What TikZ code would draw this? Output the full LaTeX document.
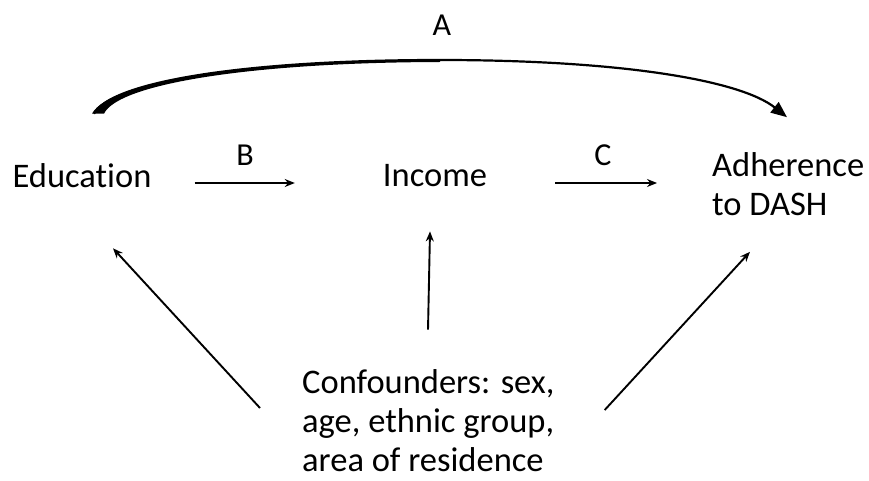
\documentclass[tikz,border=0pt]{standalone}
\usepackage{fontspec}
\setmainfont{Carlito}[Ligatures=NoCommon]
\usepackage{tikz}
\usetikzlibrary{arrows.meta, positioning}

\begin{document}
\begin{tikzpicture}[
  x=1pt, y=-1pt,
  every node/.style={font=\fontsize{34.5}{39}\selectfont, inner sep=0pt},
  var/.style={align=left},
  pathlabel/.style={font=\fontsize{32}{36}\selectfont},
  arrow/.style={-{Stealth[length=10pt,width=8pt]}, line width=1.9pt}
]
\useasboundingbox (0,0) rectangle (869,481);

%% ── VARIABLES ────────────────────────────────────────────────
\node[var] (edu) at (82,176) {Education};
\node[var] (inc) at (435,176) {Income};
\node[var, anchor=west] (dash) at (712,184) {Adherence\\to DASH};
\node[var, anchor=west] (conf) at (302,421)
  {Confounders: sex,\\age, ethnic group,\\area of residence};

%% ── PATH LABELS ──────────────────────────────────────────────
\node[pathlabel] (labA) at (442,25) {A};
\node[pathlabel] (labB) at (245,155) {B};
\node[pathlabel] (labC) at (603,155) {C};

%% Direct effect A (arc, thick at its tail)
\coordinate (arcstart) at ([shift={(10,-50)}]edu.north);
\coordinate (arctop)   at (440,60);
\coordinate (arcend)   at ([shift={(75,-35)}]dash.north west);
\fill (arcstart) .. controls +(18,-33) and (250,60) .. (arctop)
  -- (440,62) .. controls (250,62.5) and (118,84) .. ([xshift=12pt]arcstart) -- cycle;
\draw[line width=2.2pt, -{Triangle[length=16pt,width=13pt]}]
  ([xshift=2pt]arcstart) .. controls +(18,-33) and (250,60) .. (arctop)
  .. controls (620,60) and (740,80) .. (arcend);

%% Mediated path B -> C
\draw[arrow] ([shift={(43,7)}]edu.east) -- ([shift={(-88,7)}]inc.west);
\draw[arrow] ([shift={(68,7)}]inc.east) -- ([shift={(-55,7)}]dash.west |- inc.east);

%% Confounding
\draw[arrow] ([shift={(-42,-13)}]conf.west) -- ([shift={(31,60)}]edu.south);
\draw[arrow] ([shift={(-7,-40)}]conf.north -| inc.south) -- ([shift={(-5,44)}]inc.south);
\draw[arrow] ([shift={(50,-11)}]conf.east) -- ([shift={(38,36)}]dash.south west);

\end{tikzpicture}
\end{document}
